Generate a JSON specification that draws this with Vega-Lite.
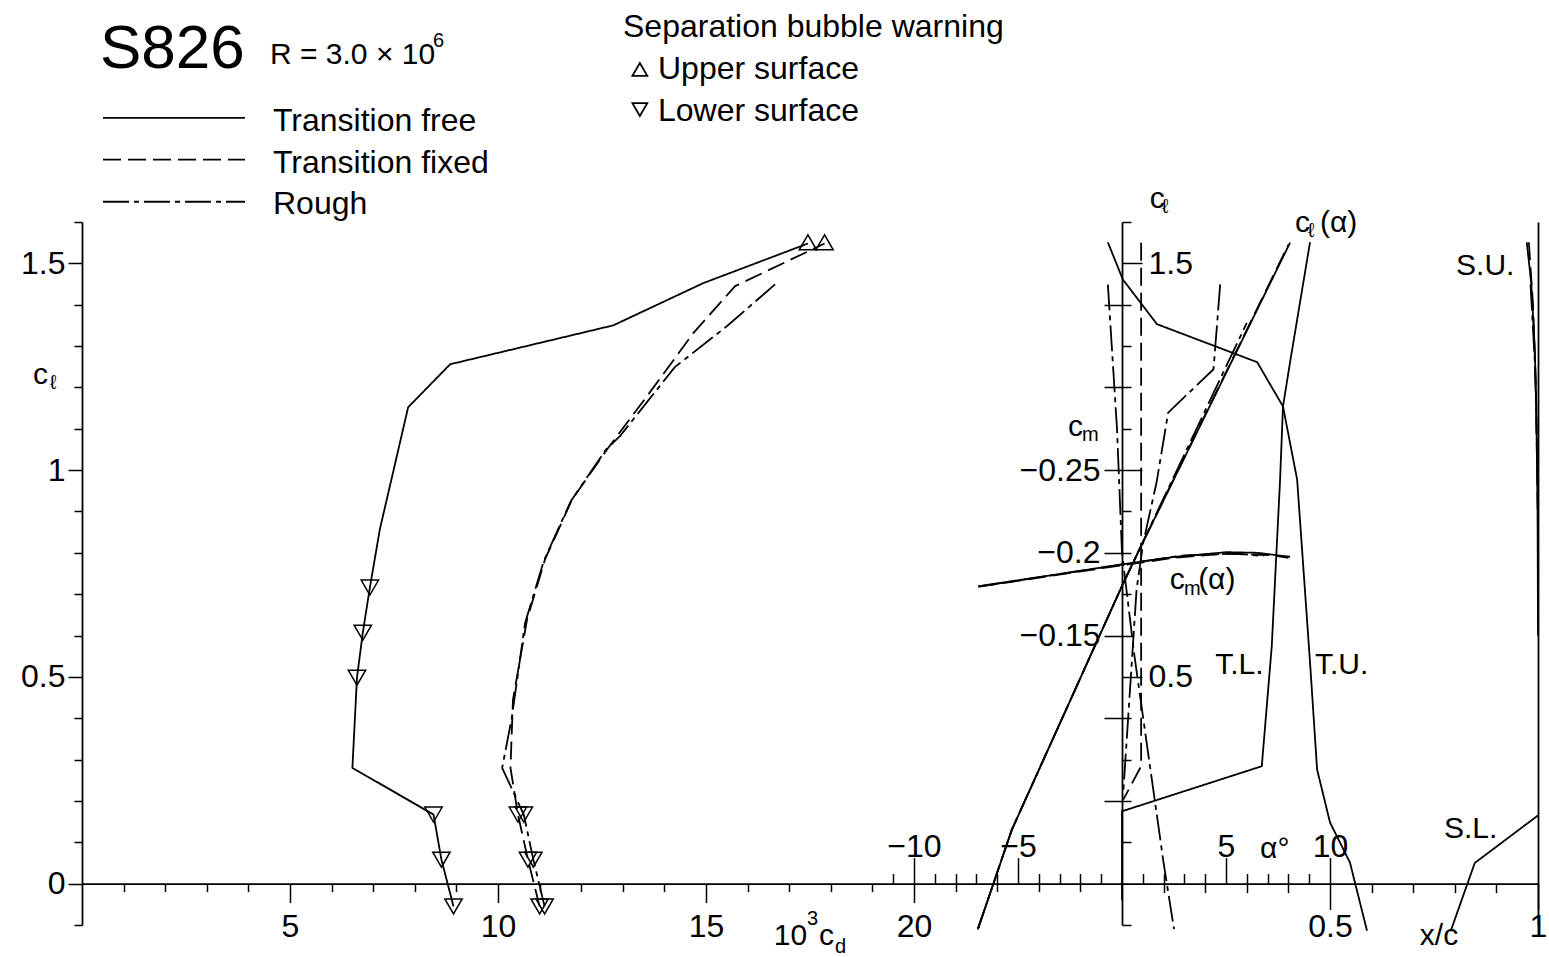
{
"$schema": "https://vega.github.io/schema/vega-lite/v6.json",
"width": 1456, "height": 703,
"autosize": {"type": "none"},
"padding": {"left": 82, "top": 222, "right": 11, "bottom": 32},
"background": "white",
"config": {
  "view": {"stroke": null},
  "font": "Liberation Sans, DejaVu Sans, sans-serif",
  "axis": {"domainColor": "black", "domainWidth": 1.8, "tickColor": "black", "tickWidth": 1.5, "labelColor": "black", "labelFont": "Liberation Sans, DejaVu Sans, sans-serif", "labelFontSize": 32, "grid": false, "labelOverlap": false, "labelFlush": false, "labelBound": false}
},
"datasets": {
  "polar": [
    {"case": "Transition free", "cd": 8.93, "cl": -0.055},
    {"case": "Transition free", "cd": 8.64, "cl": 0.058},
    {"case": "Transition free", "cd": 8.45, "cl": 0.167},
    {"case": "Transition free", "cd": 6.5, "cl": 0.28},
    {"case": "Transition free", "cd": 6.61, "cl": 0.498},
    {"case": "Transition free", "cd": 6.75, "cl": 0.607},
    {"case": "Transition free", "cd": 6.92, "cl": 0.716},
    {"case": "Transition free", "cd": 7.16, "cl": 0.857},
    {"case": "Transition free", "cd": 7.55, "cl": 1.026},
    {"case": "Transition free", "cd": 7.84, "cl": 1.152},
    {"case": "Transition free", "cd": 8.85, "cl": 1.256},
    {"case": "Transition free", "cd": 12.77, "cl": 1.35},
    {"case": "Transition free", "cd": 14.93, "cl": 1.452},
    {"case": "Transition free", "cd": 17.45, "cl": 1.548},
    {"case": "Transition fixed", "cd": 11.0, "cl": -0.055},
    {"case": "Transition fixed", "cd": 10.72, "cl": 0.058},
    {"case": "Transition fixed", "cd": 10.48, "cl": 0.167},
    {"case": "Transition fixed", "cd": 10.3, "cl": 0.28},
    {"case": "Transition fixed", "cd": 10.36, "cl": 0.445},
    {"case": "Transition fixed", "cd": 10.7, "cl": 0.64},
    {"case": "Transition fixed", "cd": 11.13, "cl": 0.784},
    {"case": "Transition fixed", "cd": 11.78, "cl": 0.929},
    {"case": "Transition fixed", "cd": 12.62, "cl": 1.05},
    {"case": "Transition fixed", "cd": 13.65, "cl": 1.188},
    {"case": "Transition fixed", "cd": 14.7, "cl": 1.332},
    {"case": "Transition fixed", "cd": 15.7, "cl": 1.445},
    {"case": "Transition fixed", "cd": 17.85, "cl": 1.548},
    {"case": "Rough", "cd": 11.12, "cl": -0.055},
    {"case": "Rough", "cd": 10.85, "cl": 0.058},
    {"case": "Rough", "cd": 10.62, "cl": 0.167},
    {"case": "Rough", "cd": 10.1, "cl": 0.28},
    {"case": "Rough", "cd": 10.33, "cl": 0.4},
    {"case": "Rough", "cd": 10.65, "cl": 0.63},
    {"case": "Rough", "cd": 11.1, "cl": 0.78},
    {"case": "Rough", "cd": 11.75, "cl": 0.925},
    {"case": "Rough", "cd": 12.6, "cl": 1.05},
    {"case": "Rough", "cd": 12.93, "cl": 1.082},
    {"case": "Rough", "cd": 14.25, "cl": 1.249},
    {"case": "Rough", "cd": 15.5, "cl": 1.348},
    {"case": "Rough", "cd": 16.66, "cl": 1.449}
  ],
  "bubbles": [
    {"case": "Transition free", "surface": "Lower surface", "cd": 6.92, "cl": 0.716},
    {"case": "Transition free", "surface": "Lower surface", "cd": 6.75, "cl": 0.607},
    {"case": "Transition free", "surface": "Lower surface", "cd": 6.61, "cl": 0.498},
    {"case": "Transition free", "surface": "Lower surface", "cd": 8.45, "cl": 0.167},
    {"case": "Transition free", "surface": "Lower surface", "cd": 8.64, "cl": 0.058},
    {"case": "Transition free", "surface": "Lower surface", "cd": 8.93, "cl": -0.055},
    {"case": "Transition fixed", "surface": "Lower surface", "cd": 10.48, "cl": 0.167},
    {"case": "Transition fixed", "surface": "Lower surface", "cd": 10.72, "cl": 0.058},
    {"case": "Transition fixed", "surface": "Lower surface", "cd": 11.0, "cl": -0.055},
    {"case": "Rough", "surface": "Lower surface", "cd": 10.62, "cl": 0.167},
    {"case": "Rough", "surface": "Lower surface", "cd": 10.85, "cl": 0.058},
    {"case": "Rough", "surface": "Lower surface", "cd": 11.12, "cl": -0.055},
    {"case": "Transition free", "surface": "Upper surface", "cd": 17.45, "cl": 1.551},
    {"case": "Transition fixed", "surface": "Upper surface", "cd": 17.85, "cl": 1.551}
  ],
  "clAlpha": [
    {"case": "Transition free", "alpha": -6.93, "cl": -0.11},
    {"case": "Transition free", "alpha": -5.3, "cl": 0.13},
    {"case": "Transition free", "alpha": 0, "cl": 0.72},
    {"case": "Transition free", "alpha": 1, "cl": 0.825},
    {"case": "Transition free", "alpha": 8.08, "cl": 1.55},
    {"case": "Transition fixed", "alpha": -6.93, "cl": -0.11},
    {"case": "Transition fixed", "alpha": -5.3, "cl": 0.13},
    {"case": "Transition fixed", "alpha": 0, "cl": 0.72},
    {"case": "Transition fixed", "alpha": 1, "cl": 0.825},
    {"case": "Transition fixed", "alpha": 8.0, "cl": 1.545},
    {"case": "Rough", "alpha": -6.93, "cl": -0.11},
    {"case": "Rough", "alpha": -5.3, "cl": 0.13},
    {"case": "Rough", "alpha": 0, "cl": 0.72},
    {"case": "Rough", "alpha": 1, "cl": 0.826},
    {"case": "Rough", "alpha": 6.0, "cl": 1.356}
  ],
  "cmAlpha": [
    {"case": "Transition free", "alpha": -6.91, "cm": -0.1798},
    {"case": "Transition free", "alpha": -3, "cm": -0.1872},
    {"case": "Transition free", "alpha": 0, "cm": -0.193},
    {"case": "Transition free", "alpha": 2.5, "cm": -0.1975},
    {"case": "Transition free", "alpha": 5.03, "cm": -0.2004},
    {"case": "Transition free", "alpha": 6.5, "cm": -0.2},
    {"case": "Transition free", "alpha": 8.08, "cm": -0.1976},
    {"case": "Transition fixed", "alpha": -6.9, "cm": -0.1795},
    {"case": "Transition fixed", "alpha": 0, "cm": -0.1925},
    {"case": "Transition fixed", "alpha": 2.5, "cm": -0.197},
    {"case": "Transition fixed", "alpha": 5, "cm": -0.1995},
    {"case": "Transition fixed", "alpha": 7.2, "cm": -0.1985},
    {"case": "Transition fixed", "alpha": 8.0, "cm": -0.197},
    {"case": "Rough", "alpha": -6.9, "cm": -0.1795},
    {"case": "Rough", "alpha": 0, "cm": -0.193},
    {"case": "Rough", "alpha": 3, "cm": -0.1985},
    {"case": "Rough", "alpha": 5.5, "cm": -0.1995},
    {"case": "Rough", "alpha": 6.8, "cm": -0.198}
  ],
  "transition": [
    {"case": "Transition free", "curve": "T.U. free", "xc": -0.034, "cl": 1.551},
    {"case": "Transition free", "curve": "T.U. free", "xc": 0.002, "cl": 1.461},
    {"case": "Transition free", "curve": "T.U. free", "xc": 0.084, "cl": 1.353},
    {"case": "Transition free", "curve": "T.U. free", "xc": 0.325, "cl": 1.261},
    {"case": "Transition free", "curve": "T.U. free", "xc": 0.387, "cl": 1.154},
    {"case": "Transition free", "curve": "T.U. free", "xc": 0.421, "cl": 0.977},
    {"case": "Transition free", "curve": "T.U. free", "xc": 0.452, "cl": 0.535},
    {"case": "Transition free", "curve": "T.U. free", "xc": 0.469, "cl": 0.276},
    {"case": "Transition free", "curve": "T.U. free", "xc": 0.5, "cl": 0.148},
    {"case": "Transition free", "curve": "T.U. free", "xc": 0.548, "cl": 0.051},
    {"case": "Transition free", "curve": "T.U. free", "xc": 0.589, "cl": -0.114},
    {"case": "Transition free", "curve": "T.L. free", "xc": 0.452, "cl": 1.551},
    {"case": "Transition free", "curve": "T.L. free", "xc": 0.404, "cl": 1.261},
    {"case": "Transition free", "curve": "T.L. free", "xc": 0.387, "cl": 1.154},
    {"case": "Transition free", "curve": "T.L. free", "xc": 0.38, "cl": 0.977},
    {"case": "Transition free", "curve": "T.L. free", "xc": 0.36, "cl": 0.574},
    {"case": "Transition free", "curve": "T.L. free", "xc": 0.336, "cl": 0.284},
    {"case": "Transition free", "curve": "T.L. free", "xc": 0.0, "cl": 0.175},
    {"case": "Transition free", "curve": "T.L. free", "xc": 0.0, "cl": -0.04},
    {"case": "Transition fixed", "curve": "T fixed", "xc": 0.046, "cl": 1.55},
    {"case": "Transition fixed", "curve": "T fixed", "xc": 0.046, "cl": 0.284},
    {"case": "Transition fixed", "curve": "T fixed", "xc": 0.003, "cl": 0.203},
    {"case": "Rough", "curve": "T.U. rough", "xc": 0.236, "cl": 1.449},
    {"case": "Rough", "curve": "T.U. rough", "xc": 0.22, "cl": 1.244},
    {"case": "Rough", "curve": "T.U. rough", "xc": 0.111, "cl": 1.139},
    {"case": "Rough", "curve": "T.U. rough", "xc": 0.083, "cl": 0.97},
    {"case": "Rough", "curve": "T.U. rough", "xc": 0.051, "cl": 0.824},
    {"case": "Rough", "curve": "T.U. rough", "xc": 0.035, "cl": 0.711},
    {"case": "Rough", "curve": "T.U. rough", "xc": 0.003, "cl": 0.22},
    {"case": "Rough", "curve": "T.L. rough", "xc": -0.034, "cl": 1.449},
    {"case": "Rough", "curve": "T.L. rough", "xc": -0.012, "cl": 1.1},
    {"case": "Rough", "curve": "T.L. rough", "xc": 0.0, "cl": 0.8},
    {"case": "Rough", "curve": "T.L. rough", "xc": 0.03, "cl": 0.55},
    {"case": "Rough", "curve": "T.L. rough", "xc": 0.065, "cl": 0.3},
    {"case": "Rough", "curve": "T.L. rough", "xc": 0.1, "cl": 0.05},
    {"case": "Rough", "curve": "T.L. rough", "xc": 0.125, "cl": -0.11}
  ],
  "separation": [
    {"case": "Transition free", "curve": "S.U. free", "xc": 0.973, "cl": 1.551},
    {"case": "Transition free", "curve": "S.U. free", "xc": 0.984, "cl": 1.45},
    {"case": "Transition free", "curve": "S.U. free", "xc": 0.992, "cl": 1.3},
    {"case": "Transition free", "curve": "S.U. free", "xc": 0.996, "cl": 1.15},
    {"case": "Transition free", "curve": "S.U. free", "xc": 0.999, "cl": 0.9},
    {"case": "Transition free", "curve": "S.U. free", "xc": 1.0, "cl": 0.6},
    {"case": "Transition fixed", "curve": "S.U. fixed", "xc": 0.978, "cl": 1.551},
    {"case": "Transition fixed", "curve": "S.U. fixed", "xc": 0.988, "cl": 1.4},
    {"case": "Transition fixed", "curve": "S.U. fixed", "xc": 0.995, "cl": 1.2},
    {"case": "Transition fixed", "curve": "S.U. fixed", "xc": 1.0, "cl": 0.85},
    {"case": "Rough", "curve": "S.U. rough", "xc": 0.982, "cl": 1.449},
    {"case": "Rough", "curve": "S.U. rough", "xc": 0.993, "cl": 1.25},
    {"case": "Rough", "curve": "S.U. rough", "xc": 1.0, "cl": 0.95},
    {"case": "Transition free", "curve": "S.L. free", "xc": 0.79, "cl": -0.115},
    {"case": "Transition free", "curve": "S.L. free", "xc": 0.848, "cl": 0.05},
    {"case": "Transition free", "curve": "S.L. free", "xc": 1.0, "cl": 0.165}
  ],
  "legendLines": [
    {"case": "Transition free", "x1": 0.505, "x2": 3.918, "cl": 1.852},
    {"case": "Transition fixed", "x1": 0.505, "x2": 3.918, "cl": 1.751},
    {"case": "Rough", "x1": 0.505, "x2": 3.918, "cl": 1.649}
  ],
  "legendTri": [
    {"surface": "Upper surface", "cd": 13.41, "cl": 1.969},
    {"surface": "Lower surface", "cd": 13.41, "cl": 1.872}
  ],
  "textBig": [
    {"t": "S826", "cd": 0.433, "cl": 1.973}
  ],
  "textLegend": [
    {"t": "Transition free", "cd": 4.591, "cl": 1.819},
    {"t": "Transition fixed", "cd": 4.591, "cl": 1.719},
    {"t": "Rough", "cd": 4.591, "cl": 1.62},
    {"t": "Separation bubble warning", "cd": 13.005, "cl": 2.048},
    {"t": "Upper surface", "cd": 13.846, "cl": 1.945},
    {"t": "Lower surface", "cd": 13.846, "cl": 1.845}
  ],
  "textMain": [
    {"t": "R = 3.0 × 10", "cd": 4.519, "cl": 1.983},
    {"t": "c", "cd": -1.178, "cl": 1.209},
    {"t": "10", "cd": 16.63, "cl": -0.148},
    {"t": "c", "cd": 17.716, "cl": -0.148},
    {"t": "x/c", "cd": 32.16, "cl": -0.148},
    {"t": "α°", "cd": 28.32, "cl": 0.063},
    {"t": "c", "cd": 25.67, "cl": 1.634},
    {"t": "c", "cd": 23.7, "cl": 1.083},
    {"t": "c", "cd": 29.16, "cl": 1.577},
    {"t": "(α)", "cd": 29.76, "cl": 1.577},
    {"t": "c", "cd": 26.15, "cl": 0.713},
    {"t": "(α)", "cd": 26.83, "cl": 0.713},
    {"t": "T.L.", "cd": 27.24, "cl": 0.508},
    {"t": "T.U.", "cd": 29.64, "cl": 0.508},
    {"t": "S.U.", "cd": 33.03, "cl": 1.473},
    {"t": "S.L.", "cd": 32.74, "cl": 0.111}
  ],
  "textSmall": [
    {"t": "6", "cd": 8.438, "cl": 2.022},
    {"t": "ℓ", "cd": -0.77, "cl": 1.195},
    {"t": "3", "cd": 17.43, "cl": -0.099},
    {"t": "d", "cd": 18.1, "cl": -0.167},
    {"t": "ℓ", "cd": 25.96, "cl": 1.622},
    {"t": "m", "cd": 24.04, "cl": 1.071},
    {"t": "ℓ", "cd": 29.47, "cl": 1.563},
    {"t": "m", "cd": 26.49, "cl": 0.699}
  ]
},
"layer": [
  {
    "data": {"name": "polar"},
    "mark": {"type": "line", "color": "black", "strokeWidth": 1.8},
    "encoding": {
      "x": {"field": "cd", "type": "quantitative", "scale": {"domain": [0, 35], "nice": false, "zero": false},
            "axis": {"orient": "bottom", "offset": -41.4, "values": [1,2,3,4,6,7,8,9,11,12,13,14,16,17,18,19,21,22,23,24], "tickSize": 8, "labels": false, "domain": true, "title": null}},
      "y": {"field": "cl", "type": "quantitative", "scale": {"domain": [-0.1, 1.6], "nice": false, "zero": false},
            "axis": {"orient": "left", "values": [-0.1,0.1,0.2,0.3,0.4,0.6,0.7,0.8,0.9,1.1,1.2,1.3,1.4,1.6], "tickSize": 8, "labels": false, "domain": true, "title": null}},
      "strokeDash": {"field": "case", "type": "nominal", "scale": {"domain": ["Transition free", "Transition fixed", "Rough"], "range": [[1, 0], [18, 7], [26, 5, 5, 5]]}, "legend": null},
      "order": {"value": null}
    }
  },
  {
    "data": {"name": "bubbles"},
    "mark": {"type": "point", "filled": false, "color": "black", "size": 300, "strokeWidth": 1.5, "opacity": 1},
    "encoding": {
      "x": {"field": "cd", "type": "quantitative", "scale": {"domain": [0, 35], "nice": false, "zero": false},
            "axis": {"orient": "bottom", "offset": -41.4, "values": [5, 10, 15, 20], "labelExpr": "format(datum.value, '')", "tickSize": 19, "labelPadding": 34, "labelBaseline": "alphabetic", "domain": false, "title": null}},
      "y": {"field": "cl", "type": "quantitative", "scale": {"domain": [-0.1, 1.6], "nice": false, "zero": false},
            "axis": {"orient": "left", "values": [0, 0.5, 1, 1.5], "labelExpr": "format(datum.value, '')", "tickSize": 14, "labelPadding": 3, "domain": false, "title": null}},
      "shape": {"field": "surface", "type": "nominal", "scale": {"domain": ["Upper surface", "Lower surface"], "range": ["triangle-up", "triangle-down"]}, "legend": null}
    }
  },
  {
    "data": {"name": "clAlpha"},
    "mark": {"type": "line", "color": "black", "strokeWidth": 1.8},
    "encoding": {
      "x": {"field": "alpha", "type": "quantitative", "scale": {"domain": [-50, 20], "nice": false, "zero": false},
            "axis": {"orient": "top", "offset": -661.6, "values": [-11,-9,-8,-7,-6,-4,-3,-2,-1,1,2,3,4,6,7,8,9], "tickSize": 10, "labels": false, "domain": false, "title": null}},
      "y": {"field": "cl", "type": "quantitative", "scale": {"domain": [-0.1, 1.6], "nice": false, "zero": false},
            "axis": {"orient": "right", "offset": -416, "values": [-0.1,0.1,0.2,0.3,0.4,0.6,0.7,0.8,0.9,1.1,1.2,1.3,1.4,1.6], "tickSize": 9, "labels": false, "domain": true, "title": null}},
      "strokeDash": {"field": "case", "type": "nominal", "scale": {"domain": ["Transition free", "Transition fixed", "Rough"], "range": [[1, 0], [18, 7], [26, 5, 5, 5]]}, "legend": null},
      "order": {"value": null}
    }
  },
  {
    "data": {"name": "cmAlpha"},
    "mark": {"type": "line", "color": "black", "strokeWidth": 1.8},
    "encoding": {
      "x": {"field": "alpha", "type": "quantitative", "scale": {"domain": [-50, 20], "nice": false, "zero": false},
            "axis": {"orient": "top", "offset": -661.6, "values": [-10, -5, 5, 10], "labelExpr": "format(datum.value, '')", "tickSize": 26, "labelPadding": 1, "labelBaseline": "alphabetic", "domain": false, "title": null}},
      "y": {"field": "cm", "type": "quantitative", "scale": {"domain": [-0.4, 0.025], "reverse": true, "nice": false, "zero": false},
            "axis": {"orient": "left", "offset": -1040, "values": [-0.35, -0.3, -0.25, -0.2, -0.15, -0.1, -0.05], "tickSize": 18, "labelPadding": 4, "labelExpr": "datum.value < -0.14 && datum.value > -0.26 ? format(datum.value, '') : ''", "domain": false, "title": null}},
      "strokeDash": {"field": "case", "type": "nominal", "scale": {"domain": ["Transition free", "Transition fixed", "Rough"], "range": [[1, 0], [18, 7], [26, 5, 5, 5]]}, "legend": null},
      "order": {"value": null}
    }
  },
  {
    "data": {"name": "transition"},
    "mark": {"type": "line", "color": "black", "strokeWidth": 1.8},
    "encoding": {
      "x": {"field": "xc", "type": "quantitative", "scale": {"domain": [-2.5, 1], "nice": false, "zero": false},
            "axis": {"orient": "bottom", "offset": -41.4, "values": [0.1, 0.2, 0.3, 0.4, 0.6, 0.7, 0.8, 0.9], "tickSize": 9, "labels": false, "domain": false, "title": null}},
      "y": {"field": "cl", "type": "quantitative", "scale": {"domain": [-0.1, 1.6], "nice": false, "zero": false},
            "axis": {"orient": "right", "offset": -416, "values": [0.5, 1, 1.5], "tickSize": 20, "labelPadding": 6, "labelExpr": "datum.value == 1 ? '' : format(datum.value, '')", "domain": false, "title": null}},
      "strokeDash": {"field": "case", "type": "nominal", "scale": {"domain": ["Transition free", "Transition fixed", "Rough"], "range": [[1, 0], [18, 7], [26, 5, 5, 5]]}, "legend": null},
      "detail": {"field": "curve"},
      "order": {"value": null}
    }
  },
  {
    "data": {"name": "separation"},
    "mark": {"type": "line", "color": "black", "strokeWidth": 1.8},
    "encoding": {
      "x": {"field": "xc", "type": "quantitative", "scale": {"domain": [-2.5, 1], "nice": false, "zero": false},
            "axis": {"orient": "bottom", "offset": -41.4, "values": [0.5, 1], "labelExpr": "format(datum.value, '')", "tickSize": 26, "labelPadding": 27, "labelBaseline": "alphabetic", "domain": false, "title": null}},
      "y": {"field": "cl", "type": "quantitative", "scale": {"domain": [-0.1, 1.6], "nice": false, "zero": false},
            "axis": {"orient": "right", "offset": 0, "ticks": false, "labels": false, "domain": true, "title": null}},
      "strokeDash": {"field": "case", "type": "nominal", "scale": {"domain": ["Transition free", "Transition fixed", "Rough"], "range": [[1, 0], [18, 7], [26, 5, 5, 5]]}, "legend": null},
      "detail": {"field": "curve"},
      "order": {"value": null}
    }
  },
  {
    "data": {"name": "legendLines"},
    "mark": {"type": "rule", "color": "black", "strokeWidth": 1.8},
    "encoding": {
      "x": {"field": "x1", "type": "quantitative", "scale": {"domain": [0, 35], "nice": false, "zero": false}, "axis": null},
      "x2": {"field": "x2"},
      "y": {"field": "cl", "type": "quantitative", "scale": {"domain": [-0.1, 1.6], "nice": false, "zero": false}, "axis": null},
      "strokeDash": {"field": "case", "type": "nominal", "scale": {"domain": ["Transition free", "Transition fixed", "Rough"], "range": [[1, 0], [18, 7], [26, 5, 5, 5]]}, "legend": null}
    }
  },
  {
    "data": {"name": "legendTri"},
    "mark": {"type": "point", "filled": false, "color": "black", "size": 220, "strokeWidth": 1.8, "opacity": 1},
    "encoding": {
      "x": {"field": "cd", "type": "quantitative", "scale": {"domain": [0, 35], "nice": false, "zero": false}, "axis": null},
      "y": {"field": "cl", "type": "quantitative", "scale": {"domain": [-0.1, 1.6], "nice": false, "zero": false}, "axis": null},
      "shape": {"field": "surface", "type": "nominal", "scale": {"domain": ["Upper surface", "Lower surface"], "range": ["triangle-up", "triangle-down"]}, "legend": null}
    }
  },
  {
    "data": {"name": "textBig"},
    "mark": {"type": "text", "align": "left", "baseline": "alphabetic", "fontSize": 62, "color": "black", "font": "Liberation Sans, DejaVu Sans, sans-serif"},
    "encoding": {
      "x": {"field": "cd", "type": "quantitative", "scale": {"domain": [0, 35], "nice": false, "zero": false}, "axis": null},
      "y": {"field": "cl", "type": "quantitative", "scale": {"domain": [-0.1, 1.6], "nice": false, "zero": false}, "axis": null},
      "text": {"field": "t"}
    }
  },
  {
    "data": {"name": "textLegend"},
    "mark": {"type": "text", "align": "left", "baseline": "alphabetic", "fontSize": 32, "color": "black", "font": "Liberation Sans, DejaVu Sans, sans-serif"},
    "encoding": {
      "x": {"field": "cd", "type": "quantitative", "scale": {"domain": [0, 35], "nice": false, "zero": false}, "axis": null},
      "y": {"field": "cl", "type": "quantitative", "scale": {"domain": [-0.1, 1.6], "nice": false, "zero": false}, "axis": null},
      "text": {"field": "t"}
    }
  },
  {
    "data": {"name": "textMain"},
    "mark": {"type": "text", "align": "left", "baseline": "alphabetic", "fontSize": 30, "color": "black", "font": "Liberation Sans, DejaVu Sans, sans-serif"},
    "encoding": {
      "x": {"field": "cd", "type": "quantitative", "scale": {"domain": [0, 35], "nice": false, "zero": false}, "axis": null},
      "y": {"field": "cl", "type": "quantitative", "scale": {"domain": [-0.1, 1.6], "nice": false, "zero": false}, "axis": null},
      "text": {"field": "t"}
    }
  },
  {
    "data": {"name": "textSmall"},
    "mark": {"type": "text", "align": "left", "baseline": "alphabetic", "fontSize": 20, "color": "black", "font": "Liberation Sans, DejaVu Sans, sans-serif"},
    "encoding": {
      "x": {"field": "cd", "type": "quantitative", "scale": {"domain": [0, 35], "nice": false, "zero": false}, "axis": null},
      "y": {"field": "cl", "type": "quantitative", "scale": {"domain": [-0.1, 1.6], "nice": false, "zero": false}, "axis": null},
      "text": {"field": "t"}
    }
  }
],
"resolve": {"scale": {"x": "independent", "y": "independent"}, "axis": {"x": "independent", "y": "independent"}}
}
